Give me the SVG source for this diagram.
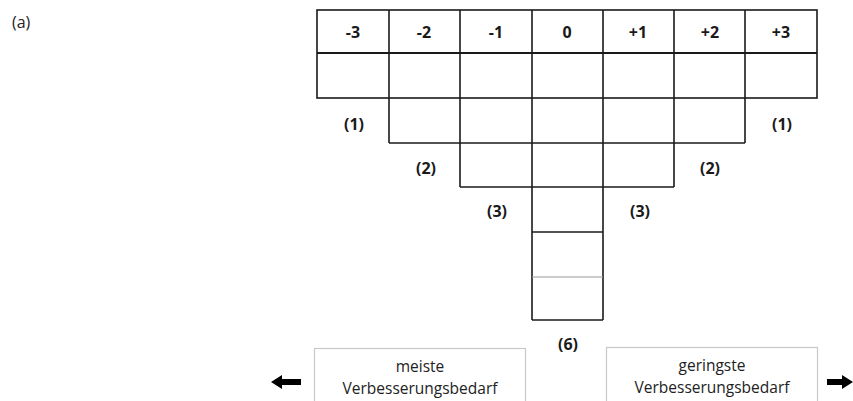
<svg xmlns="http://www.w3.org/2000/svg" width="853" height="401" viewBox="0 0 853 401">
<style>
.c{fill:none;stroke:#1a1a1a;stroke-width:1.6}
.h{font-family:"Open Sans","Liberation Sans",sans-serif;font-weight:bold;font-size:16px;fill:#1a1a1a;text-anchor:middle}
.l{font-family:"Open Sans","Liberation Sans",sans-serif;font-size:15.5px;fill:#222;text-anchor:middle}
.b{fill:#fff;stroke:#c8c8c8;stroke-width:1.2}
</style>
<rect width="853" height="401" fill="#fff"/>
<text x="12" y="28" style="font-family:'Open Sans','Liberation Sans',sans-serif;font-size:16px;fill:#222">(a)</text>
<g id="grid">
<rect class="c" x="317" y="10" width="500" height="88"/>
<line class="c" x1="317" y1="53" x2="817" y2="53" style="stroke-width:2.2"/>
<line class="c" x1="389" y1="10" x2="389" y2="143"/>
<line class="c" x1="460" y1="10" x2="460" y2="187"/>
<line class="c" x1="532" y1="10" x2="532" y2="320"/>
<line class="c" x1="603" y1="10" x2="603" y2="320"/>
<line class="c" x1="674" y1="10" x2="674" y2="187"/>
<line class="c" x1="745" y1="10" x2="745" y2="143"/>
<line class="c" x1="389" y1="143" x2="745" y2="143"/>
<line class="c" x1="460" y1="187" x2="674" y2="187"/>
<line class="c" x1="532" y1="232" x2="603" y2="232"/>
<line x1="532" y1="277" x2="603" y2="277" stroke="#999" stroke-width="1.2"/>
<line class="c" x1="532" y1="320" x2="603" y2="320"/>
</g>
<g id="headers">
<text class="h" x="353" y="38">-3</text>
<text class="h" x="424" y="38">-2</text>
<text class="h" x="496" y="38">-1</text>
<text class="h" x="567" y="38">0</text>
<text class="h" x="638" y="38">+1</text>
<text class="h" x="710" y="38">+2</text>
<text class="h" x="781" y="38">+3</text>
</g>
<g id="counts">
<text class="h" x="354" y="130">(1)</text>
<text class="h" x="782" y="130">(1)</text>
<text class="h" x="426" y="174">(2)</text>
<text class="h" x="710" y="174">(2)</text>
<text class="h" x="497" y="217">(3)</text>
<text class="h" x="640" y="217">(3)</text>
<text class="h" x="568" y="350">(6)</text>
</g>
<g id="left-box">
<rect class="b" x="314.5" y="348.5" width="211" height="60"/>
<text class="l" x="420" y="372">meiste</text>
<text class="l" x="420" y="394">Verbesserungsbedarf</text>
</g>
<g id="right-box">
<rect class="b" x="606.5" y="347.5" width="211" height="60"/>
<text class="l" x="712" y="371">geringste</text>
<text class="l" x="712" y="393">Verbesserungsbedarf</text>
</g>
<g id="connectors">
<polygon points="271,382 282,375 282,379 301,379 301,385 282,385 282,389" fill="#000"/>
<polygon points="853,382 842,375 842,379 827,379 827,385 842,385 842,389" fill="#000"/>
</g>
</svg>
